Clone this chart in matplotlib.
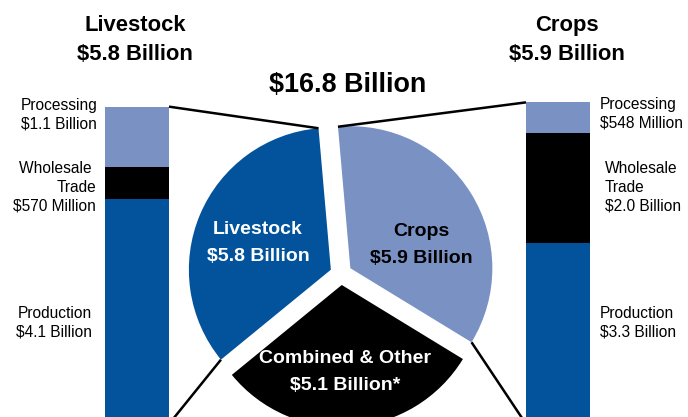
import matplotlib
matplotlib.use("Agg")
import matplotlib.pyplot as plt
import numpy as np

plt.rcParams['font.family'] = ['Liberation Sans', 'DejaVu Sans']

# Pie segments (billions of dollars), counter-clockwise from the top
pie_labels = ["Livestock\n$5.8 Billion", "Combined & Other\n$5.1 Billion*", "Crops\n$5.9 Billion"]
pie_values = [5.8, 5.1, 5.9]
total_label = "$16.8 Billion"

# Stacked bar breakdowns (billions of dollars), bottom to top
stages = ["Production", "Wholesale Trade", "Processing"]
livestock_values = [4.1, 0.57, 1.1]
livestock_text = ["Production\n$4.1 Billion", "Wholesale \nTrade\n$570 Million", "Processing\n$1.1 Billion"]
crops_values = [3.3, 2.0, 0.548]
crops_text = ["Production\n$3.3 Billion", "Wholesale\nTrade\n$2.0 Billion", "Processing\n$548 Million"]

DARK = "#02539b"
LIGHT = "#7a91c4"
BLACK = "#000000"
stage_colors = [DARK, BLACK, LIGHT]
pie_colors = [DARK, BLACK, LIGHT]

W, H = 688, 417
fig = plt.figure(figsize=(W / 100, H / 100), dpi=100)
ax = fig.add_axes([0, 0, 1, 1])

# pixel-like coordinate frame (y up)
PX_PER_B = 55.0
BASE = -7.0
BAR_W = 64

# pie
center = (341, 143)
R = 142
wedges, texts = ax.pie(pie_values, colors=pie_colors, startangle=95, counterclock=True,
                       radius=R, center=center, explode=[11, 11, 11], frame=True,
                       wedgeprops=dict(linewidth=0))

# stacked bars
def stacked(xc, vals):
    bottom = BASE
    for v, c in zip(vals, stage_colors):
        ax.bar(xc, v * PX_PER_B, bottom=bottom, width=BAR_W, color=c, linewidth=0)
        bottom += v * PX_PER_B
    return bottom

left_x, right_x = 137, 558
left_top = stacked(left_x, livestock_values)
right_top = stacked(right_x, crops_values)

def corner(w, ang):
    cx, cy = w.center
    a = np.deg2rad(ang)
    return cx + w.r * np.cos(a), cy + w.r * np.sin(a)

live, comb, crop = wedges
lw = 1.8
line_kw = dict(color="black", lw=lw, solid_capstyle="butt")
# livestock connectors
p_top = corner(live, live.theta1)
p_bot = corner(live, live.theta2)
lx = left_x + BAR_W / 2
ax.plot([lx, p_top[0]], [left_top, p_top[1]], **line_kw)
ax.plot([lx, p_bot[0]], [BASE, p_bot[1]], **line_kw)
# crops connectors
c_top = corner(crop, crop.theta2)
c_bot = corner(crop, crop.theta1)
rx = right_x - BAR_W / 2
ax.plot([rx, c_top[0]], [right_top, c_top[1]], **line_kw)
ax.plot([rx, c_bot[0]], [BASE, c_bot[1]], **line_kw)

# titles
title_kw = dict(fontsize=15.8, fontweight="bold", ha="center", va="center", linespacing=1.55)
ax.text(135, H - 40, "Livestock\n$5.8 Billion", **title_kw)
ax.text(567, H - 40, "Crops\n$5.9 Billion", **title_kw)
ax.text(348, H - 85, total_label, fontsize=19.4, fontweight="bold", ha="center", va="center")

# pie labels
pie_kw = dict(fontsize=14, fontweight="bold", ha="center", va="center", linespacing=1.75)
ax.text(258, H - 243, pie_labels[0], color="white", **pie_kw)
ax.text(345, H - 372, pie_labels[1], color="white", **pie_kw)
ax.text(421, H - 245, pie_labels[2], color="black", **pie_kw)

# bar labels
lab_kw = dict(fontsize=11.2, va="center", linespacing=1.3)
ax.text(97, H - 115, livestock_text[2], ha="right", multialignment="right", **lab_kw)
ax.text(96, H - 187, livestock_text[1], ha="right", multialignment="right", **lab_kw)
ax.text(92, H - 323, livestock_text[0], ha="right", multialignment="right", **lab_kw)
ax.text(600, H - 114, crops_text[2], ha="left", **lab_kw)
ax.text(605, H - 187, crops_text[1], ha="left", **lab_kw)
ax.text(600, H - 323, crops_text[0], ha="left", **lab_kw)

ax.set_xlim(0, W)
ax.set_ylim(0, H)
ax.set_aspect("auto")
ax.axis("off")

fig.savefig("out.png", dpi=100)
